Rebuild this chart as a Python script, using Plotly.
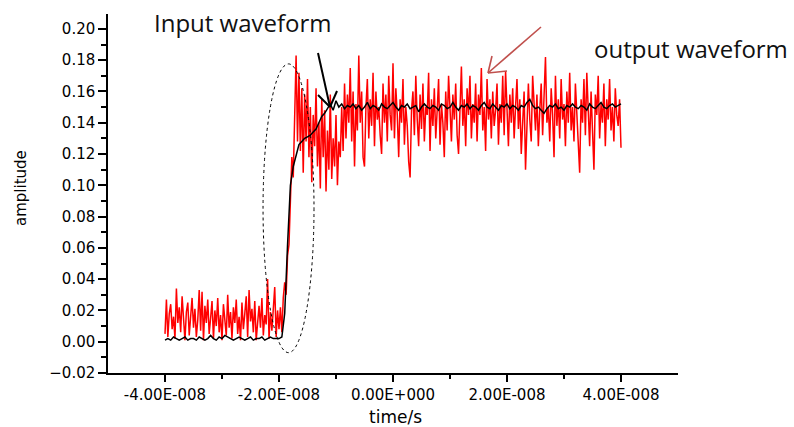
import numpy as np
import plotly.graph_objects as go

# ---- data (amplitude x 1000) ----
red_t0_ns = -40.0
red_step_ns = 0.25
red_milli = [
    5, 27, 3, 18, 24, 8, 16, 2, 34, 12, 22, 6, 29, 11, 1, 19, 25, 4, 16, 28,
    9, 21, 3, 14, 33, 7, 32, 1, 23, 12, 27, 5, 15, 26, 2, 20, 10, 28, 6, 17,
    1, 24, 14, 4, 30, 9, 19, 2, 22, 12, 27, 5, 16, 1, 25, 8, 18, 29, 3, 33,
    13, 21, 6, 26, 1, 15, 23, 9, 28, 4, 17, 11, 40, 2, 19, 7, 24, 35, 3, 20,
    8, 22, 6, 28, 38, 30, 55, 62, 90, 118, 105, 150, 183, 128, 172, 122, 162, 108, 158, 128,
    168, 118, 150, 102, 145, 125, 162, 112, 140, 98, 155, 118, 148, 96, 135, 110, 158, 104, 130, 112,
    145, 100, 128, 118, 150, 122, 165, 130, 158, 140, 175, 128, 160, 112, 152, 135, 183, 140, 160, 118,
    112,
    150, 168, 130, 155, 138, 172, 125, 160, 142, 150, 132, 120, 165, 140, 158, 128, 170, 145, 135, 178,
    130, 162, 145, 118, 155, 140, 168, 126, 150, 138, 115, 105, 148, 160, 132, 170, 142, 125, 158, 136,
    165, 128, 150, 145, 172, 122, 155, 138, 162, 130, 148, 168, 126, 152, 140, 118, 160, 135, 170, 145,
    128, 158, 142, 165, 132, 120, 150, 176, 138, 155, 125, 162, 145, 170, 130, 152, 140, 165, 128, 158,
    145, 175, 135, 150, 122, 168, 142, 155, 130, 160, 138, 148, 165, 126, 152, 140, 170, 132, 173, 145,
    125, 158, 140, 162, 130, 150, 168, 136, 155, 120, 145, 160, 110, 138, 165, 142, 128, 170, 150, 135,
    158, 125, 148, 165, 132, 155, 182, 140, 150, 128, 162, 145, 118, 170, 138, 155, 130, 168, 142, 152,
    125, 160, 140, 172, 135, 150, 128, 165, 145, 130, 108, 155, 140, 168, 132, 172, 150, 125, 160, 138,
    110, 158, 145, 170, 130, 152, 140, 165, 125, 155, 142, 168, 135, 150, 128, 162, 145, 138, 155, 124,
]

black_t0_ns = -40.0
black_step_ns = 0.5
black_milli = [
    1, 2, 1, 3, 2, 1, 2, 3, 1, 2, 2, 1, 3, 2, 1, 2, 4, 2, 1, 3,
    2, 4, 3, 2, 1, 2, 3, 2, 1, 2, 3, 1, 2, 2, 3, 1, 2, 3, 2, 2,
    2, 3, 18, 62, 100, 112, 119, 126, 128, 130, 131, 132, 134, 136, 140, 144, 146, 149, 152, 148,
    154, 150, 152, 149, 151,
    150, 152, 149, 151, 148, 150, 153, 149, 151, 150, 148, 152, 150, 149, 151, 153, 150, 148, 151, 150,
    152, 149, 150, 151, 147, 150, 152, 150, 149, 151, 150, 148, 152, 151, 149, 150, 153, 150, 148, 151,
    150, 152, 149, 151, 150, 148, 151, 153, 150, 149, 152, 150, 148, 151, 150, 152, 149, 151, 150, 148,
    151, 150, 153, 155, 151, 149, 150, 148, 146, 149, 151, 150, 152, 149, 150, 148, 151, 150, 152, 150,
    149, 151, 150, 148, 152, 150, 149, 151, 153, 150, 149, 151, 152, 150, 151, 152,
]

x_tickvals = [-4e-8, -2e-8, 0.0, 2e-8, 4e-8]
x_ticktext = ["-4.00E-008", "-2.00E-008", "0.00E+000", "2.00E-008", "4.00E-008"]

red_t = (red_t0_ns + red_step_ns * np.arange(len(red_milli))) * 1e-9
red_y = np.array(red_milli) / 1000.0
black_t = (black_t0_ns + black_step_ns * np.arange(len(black_milli))) * 1e-9
black_y = np.array(black_milli) / 1000.0

# ---- layout geometry (pixels) ----
W, H = 794, 427
L, R, T, B = 108, 116, 14, 54
PW, PH = W - L - R, H - T - B


def pp(px, py):
    return (px - L) / PW, (H - B - py) / PH


fig = go.Figure()
fig.add_trace(go.Scatter(x=red_t, y=red_y, mode="lines",
                         line=dict(color="#ff0000", width=1.5), showlegend=False))
fig.add_trace(go.Scatter(x=black_t, y=black_y, mode="lines",
                         line=dict(color="#000000", width=1.5), showlegend=False))

axis_font = dict(family="DejaVu Sans, sans-serif", size=15, color="#000")

fig.update_layout(
    width=W, height=H,
    margin=dict(l=L, r=R, t=T, b=B),
    paper_bgcolor="white", plot_bgcolor="white",
    xaxis=dict(range=[-5e-8, 5e-8], tickvals=x_tickvals, ticktext=x_ticktext,
               ticks="outside", ticklen=7, tickwidth=1.5, tickcolor="#000",
               showline=True, linecolor="#000", linewidth=1.5,
               showgrid=False, zeroline=False, tickfont=axis_font,
               minor=dict(tickvals=[-3e-8, -1e-8, 1e-8, 3e-8], ticks="outside",
                          ticklen=4, tickwidth=1.5, tickcolor="#000")),
    yaxis=dict(range=[-0.02, 0.2095], tick0=-0.02, dtick=0.02, tickformat=".2f",
               ticks="outside", ticklen=8, tickwidth=1.5, tickcolor="#000",
               showline=True, linecolor="#000", linewidth=1.5,
               showgrid=False, zeroline=False, tickfont=axis_font,
               minor=dict(dtick=0.01, ticks="outside", ticklen=5, tickwidth=1.5,
                          tickcolor="#000")),
)


def text_at(txt, px, py, font, angle=0):
    xt, yt = pp(px, py)
    fig.add_annotation(text=txt, x=xt, y=yt, xref="paper", yref="paper",
                       xanchor="center", yanchor="middle", textangle=angle,
                       showarrow=False, font=font)


# axis titles
text_at("time/s", 395, 417, dict(family="DejaVu Sans, sans-serif", size=17, color="#000"))
text_at("amplitude", 21, 188, dict(family="DejaVu Sans, sans-serif", size=15, color="#000"), -90)

# text labels
label_font = dict(family="Open Sans, Noto Sans, sans-serif", size=24, color="#111")
text_at("Input waveform", 243, 23, label_font)
text_at("output waveform", 691, 48, label_font)


def seg(p1, p2, color, width):
    x0, y0 = pp(*p1)
    x1, y1 = pp(*p2)
    fig.add_shape(type="line", xref="paper", yref="paper", x0=x0, y0=y0, x1=x1, y1=y1,
                  line=dict(color=color, width=width))


# black arrow (input)
tip = (330, 107)
seg((318, 53), tip, "#000", 2)
seg((318, 95), tip, "#000", 2)
seg((337, 91), tip, "#000", 2)

# brown-red arrow (output)
tip2 = (488, 73)
seg((541, 27), tip2, "#c0504d", 1.6)
seg((492, 56), tip2, "#c0504d", 1.6)
seg((507, 71), tip2, "#c0504d", 1.6)

# dashed ellipse around the rising edge
fig.add_shape(type="circle", xref="x", yref="y",
              x0=-2.28e-8, x1=-1.386e-8, y0=-0.007, y1=0.1776,
              line=dict(color="#000", width=1, dash="dot"))

fig.write_html("out.html", config={"displayModeBar": False},
               post_script="document.body.style.margin='0';document.body.style.overflow='hidden';")
